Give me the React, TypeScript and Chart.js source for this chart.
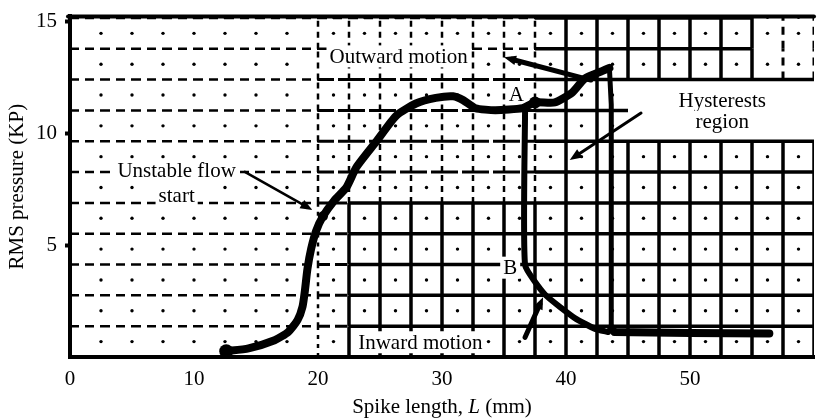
import { useEffect, useRef } from "react";
import { Chart, registerables } from "chart.js";

Chart.register(...registerables);

const FONT = '"Liberation Serif", "Times New Roman", serif';

// Axis ticks
const xTickValues = [0, 10, 20, 30, 40, 50];
const yTickValues = [5, 10, 15];

// Outward motion curve (start -> A -> top corner)
const outwardX = [12.6, 14.4, 16.5, 17.6, 18.35, 18.75, 18.95, 19.15, 19.45, 19.85, 20.4, 21.3, 22.3, 23.1, 24.7, 26.3, 27.9, 29.5, 30.9, 31.7, 32.7, 34.3, 36.5, 37.5, 39.1, 40.5, 41.5, 42.9, 43.5];
const outwardY = [0.26, 0.39, 0.75, 1.12, 1.65, 2.25, 3.0, 3.95, 4.85, 5.65, 6.3, 7.0, 7.6, 8.5, 9.65, 10.8, 11.35, 11.6, 11.67, 11.5, 11.14, 11.05, 11.14, 11.4, 11.4, 11.84, 12.46, 12.8, 12.94];
// Drop from the corner
const dropX = [43.5, 43.65, 43.65];
const dropY = [12.94, 11.3, 1.3];
// Low plateau
const baseX = [43.65, 43.9, 50.0, 56.4];
const baseY = [1.3, 1.12, 1.08, 1.05];
// Inward branch (A -> B -> plateau)
const inwardX = [36.7, 36.7, 38.3, 40.7, 42.3, 43.4];
const inwardY = [11.14, 4.12, 2.8, 1.75, 1.27, 1.12];
// Marked points
const markerX = [12.6, 20.4, 37.5];
const markerY = [0.26, 6.3, 11.4];
const markerR = [7, 5, 6];

// Annotation texts (data coordinates of their centres)
const noteText = ["Outward motion", "Unstable flow", "start", "Hysterests", "region", "A", "B", "Inward motion"];
const noteX = [26.5, 8.6, 8.6, 52.6, 52.6, 36.0, 35.5, 28.25];
const noteY = [13.46, 8.33, 7.24, 11.5, 10.53, 11.75, 4.0, 0.66];

// Arrows
const arrowX1 = [14.1, 42.0, 46.05, 36.7];
const arrowY1 = [8.29, 12.4, 10.92, 0.88];
const arrowX2 = [19.55, 35.0, 40.3, 38.15];
const arrowY2 = [6.58, 13.42, 8.82, 2.68];
const arrowW = [2.5, 5, 3, 5];

// Recorder-paper grid
const GRID_DX = 2.5;
const GRID_DY = 1.38;
const Y_MAX = 15.25;

type SegStyle = { w: number; dash: number[] } | null;

function segStyle(kind: "h" | "v", mx: number, my: number): SegStyle {
  if (mx >= 44.9 && my > 9.8 && my < 12.3) return null; // blank hysteresis block
  if (my > 12.5 && mx > 55) return kind === "v" ? { w: 3, dash: [8, 6] } : null;
  if (mx < 18.8) return kind === "h" ? { w: 2.5, dash: [9, 6] } : null;
  if (my > 6.95 && mx < 37.6) {
    if (kind === "h") return my > 13 ? { w: 2.5, dash: [9, 6] } : { w: 3, dash: [16, 4] };
    return { w: 2.5, dash: [6, 5] };
  }
  if (mx < 21.3) return kind === "h" ? { w: 3, dash: [12, 5] } : { w: 2.5, dash: [4, 5] };
  return { w: 3.5, dash: [] };
}

const gridPlugin = {
  id: "paperGrid",
  beforeDatasetsDraw(chart: any) {
    const { ctx, chartArea: a, scales } = chart;
    const xs = scales.x;
    const ys = scales.y;
    ctx.save();
    ctx.beginPath();
    ctx.rect(a.left, a.top, a.right - a.left, a.bottom - a.top);
    ctx.clip();
    ctx.strokeStyle = "#000";
    ctx.fillStyle = "#000";
    const gx: number[] = [];
    for (let i = 0; i * GRID_DX <= 60.001; i++) gx.push(i * GRID_DX);
    const gy: number[] = [];
    for (let j = 0; j * GRID_DY < Y_MAX; j++) gy.push(j * GRID_DY);
    gy.push(Y_MAX);
    // vertical segments
    for (let i = 1; i < gx.length; i++) {
      for (let j = 0; j < gy.length - 1; j++) {
        const st = segStyle("v", gx[i], (gy[j] + gy[j + 1]) / 2);
        if (!st) continue;
        ctx.lineWidth = st.w;
        ctx.setLineDash(st.dash);
        const px = xs.getPixelForValue(gx[i]);
        ctx.beginPath();
        ctx.moveTo(px, ys.getPixelForValue(gy[j]));
        ctx.lineTo(px, ys.getPixelForValue(gy[j + 1]));
        ctx.stroke();
      }
    }
    // horizontal segments
    for (let j = 1; j < gy.length - 1; j++) {
      for (let i = 0; i < gx.length - 1; i++) {
        const st = segStyle("h", (gx[i] + gx[i + 1]) / 2, gy[j]);
        if (!st) continue;
        ctx.lineWidth = st.w;
        ctx.setLineDash(st.dash);
        const py = ys.getPixelForValue(gy[j]);
        ctx.beginPath();
        ctx.moveTo(xs.getPixelForValue(gx[i]), py);
        ctx.lineTo(xs.getPixelForValue(gx[i + 1]), py);
        ctx.stroke();
      }
    }
    ctx.setLineDash([]);
    // centre dots
    for (let j = 0; j < gy.length - 1; j++) {
      const my = (gy[j] + gy[j + 1]) / 2;
      for (let i = 0; i < gx.length; i++) {
        const mx = gx[i] < 18.8 ? gx[i] : gx[i] + GRID_DX / 2;
        if (mx <= 0.1 || mx > 60) continue;
        if (mx >= 44.9 && my > 9.8 && my < 12.3) continue;
        ctx.beginPath();
        ctx.arc(xs.getPixelForValue(mx), ys.getPixelForValue(my), 1.7, 0, Math.PI * 2);
        ctx.fill();
      }
    }
    // text annotations with white boxes
    ctx.font = `21px ${FONT}`;
    ctx.textAlign = "center";
    ctx.textBaseline = "middle";
    for (let k = 0; k < noteText.length; k++) {
      const px = xs.getPixelForValue(noteX[k]);
      const py = ys.getPixelForValue(noteY[k]);
      const w = ctx.measureText(noteText[k]).width;
      ctx.fillStyle = "#fff";
      ctx.fillRect(px - w / 2 - 3, py - 11, w + 6, 22);
      ctx.fillStyle = "#000";
      ctx.fillText(noteText[k], px, py + 1);
    }
    ctx.restore();
  },
  afterDatasetsDraw(chart: any) {
    const { ctx, chartArea: a, scales } = chart;
    const xs = scales.x;
    const ys = scales.y;
    ctx.save();
    ctx.strokeStyle = "#000";
    ctx.fillStyle = "#000";
    for (let k = 0; k < arrowX1.length; k++) {
      const x1 = xs.getPixelForValue(arrowX1[k]);
      const y1 = ys.getPixelForValue(arrowY1[k]);
      const x2 = xs.getPixelForValue(arrowX2[k]);
      const y2 = ys.getPixelForValue(arrowY2[k]);
      const ang = Math.atan2(y2 - y1, x2 - x1);
      const head = 13;
      ctx.lineWidth = arrowW[k];
      ctx.lineCap = "round";
      ctx.beginPath();
      ctx.moveTo(x1, y1);
      ctx.lineTo(x2 - Math.cos(ang) * head * 0.6, y2 - Math.sin(ang) * head * 0.6);
      ctx.stroke();
      ctx.beginPath();
      ctx.moveTo(x2, y2);
      ctx.lineTo(x2 - head * Math.cos(ang - 0.38), y2 - head * Math.sin(ang - 0.38));
      ctx.lineTo(x2 - head * Math.cos(ang + 0.38), y2 - head * Math.sin(ang + 0.38));
      ctx.closePath();
      ctx.fill();
    }
    // top frame line
    ctx.lineWidth = 4;
    ctx.beginPath();
    ctx.moveTo(a.left - 2, a.top);
    ctx.lineTo(a.right, a.top);
    ctx.stroke();
    // x axis title with italic L
    const parts = [
      { t: "Spike length, ", f: `21px ${FONT}` },
      { t: "L", f: `italic 21px ${FONT}` },
      { t: " (mm)", f: `21px ${FONT}` },
    ];
    let total = 0;
    for (const p of parts) {
      ctx.font = p.f;
      total += ctx.measureText(p.t).width;
    }
    let cx = (a.left + a.right) / 2 - total / 2;
    ctx.textAlign = "left";
    ctx.textBaseline = "middle";
    for (const p of parts) {
      ctx.font = p.f;
      ctx.fillText(p.t, cx, 407);
      cx += ctx.measureText(p.t).width;
    }
    ctx.restore();
  },
};

function pts(xa: number[], ya: number[]) {
  return xa.map((v, i) => ({ x: v, y: ya[i] }));
}

export default function App() {
  const ref = useRef<HTMLCanvasElement>(null);
  useEffect(() => {
    document.body.style.margin = "0";
    const lineDs = (data: any, w: number, tension: number) => ({
      data,
      showLine: true,
      borderColor: "#000",
      backgroundColor: "#000",
      borderWidth: w,
      tension,
      pointRadius: 0,
      borderCapStyle: "round",
      borderJoinStyle: "round",
    });
    const chart = new Chart(ref.current as HTMLCanvasElement, {
      type: "scatter",
      data: {
        datasets: [
          lineDs(pts(outwardX, outwardY), 8, 0.2),
          lineDs(pts(dropX, dropY), 5, 0),
          lineDs(pts(baseX, baseY), 8, 0),
          lineDs(pts(inwardX, inwardY), 6, 0.15),
          {
            data: pts(markerX, markerY),
            showLine: false,
            pointRadius: markerR,
            pointBackgroundColor: "#000",
            pointBorderWidth: 0,
          },
        ] as any,
      },
      options: {
        responsive: false,
        animation: false,
        layout: { padding: { top: 9, right: 0, left: 0, bottom: 0 } },
        plugins: { legend: { display: false }, tooltip: { enabled: false } },
        scales: {
          x: {
            type: "linear",
            min: 0,
            max: 60,
            afterBuildTicks: (s: any) => {
              s.ticks = xTickValues.map((v) => ({ value: v }));
            },
            afterFit: (s: any) => {
              s.height = 62;
            },
            grid: { drawOnChartArea: false, drawTicks: false },
            border: { color: "#000", width: 4 },
            ticks: { color: "#000", font: { family: FONT, size: 21 }, padding: 10, maxRotation: 0, autoSkip: false },
          },
          y: {
            type: "linear",
            min: 0,
            max: Y_MAX,
            afterBuildTicks: (s: any) => {
              s.ticks = yTickValues.map((v) => ({ value: v }));
            },
            afterFit: (s: any) => {
              s.width = 70;
            },
            grid: { drawOnChartArea: false, drawTicks: true, tickLength: 5, tickWidth: 4, tickColor: "#000" },
            border: { color: "#000", width: 4 },
            ticks: { color: "#000", font: { family: FONT, size: 21, lineHeight: 0.8 }, padding: 8 },
            title: {
              display: true,
              text: "RMS pressure (KP)",
              color: "#000",
              font: { family: FONT, size: 21 },
              padding: { top: 5, bottom: 0 },
            },
          },
        },
      } as any,
      plugins: [gridPlugin],
    });
    return () => chart.destroy();
  }, []);
  return (
    <div style={{ position: "absolute", left: 0, top: 0, width: 821, height: 419, background: "#fff" }}>
      <canvas ref={ref} width={821} height={419} style={{ display: "block" }} />
    </div>
  );
}
